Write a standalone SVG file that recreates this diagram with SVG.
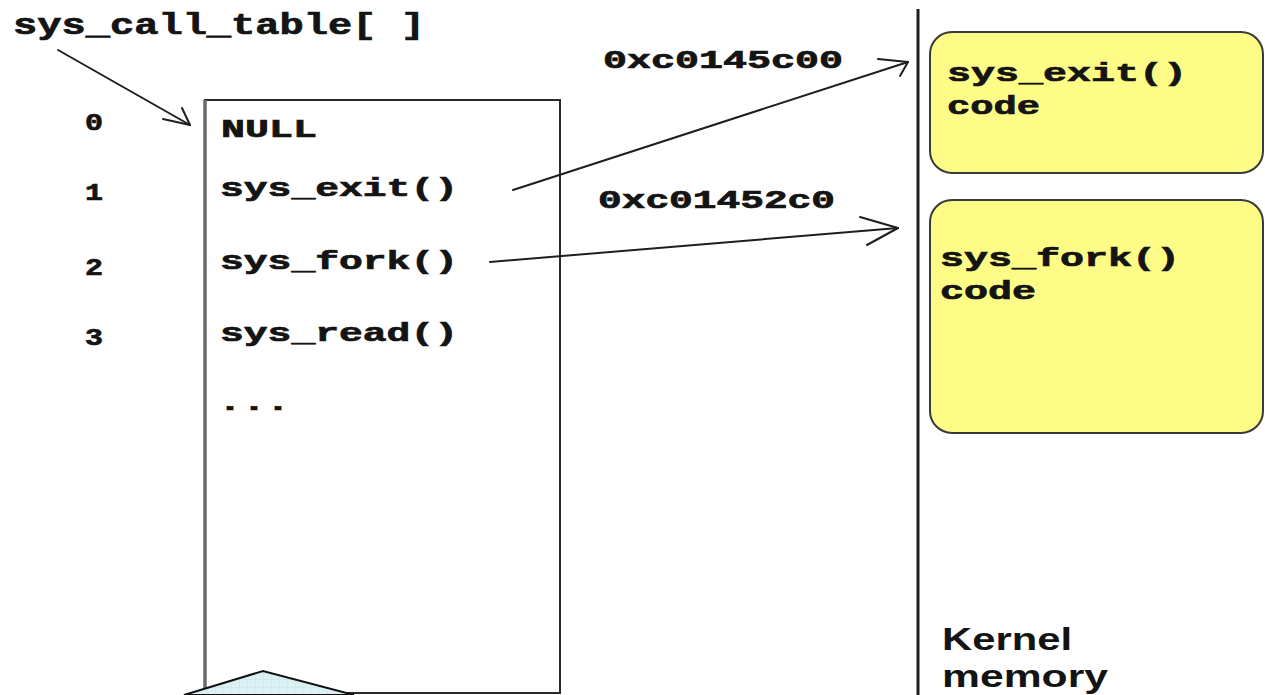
<svg xmlns="http://www.w3.org/2000/svg" width="1265" height="695" viewBox="0 0 1265 695">
  <style>
    .mono { font-family: "Liberation Mono", "Courier New", monospace; font-weight: bold; fill: #141414; stroke: #141414; stroke-width: 0.7; }
    .sans { font-family: "Liberation Sans", Arial, sans-serif; font-weight: bold; fill: #141414; }
    .wire { fill: none; stroke: #1e1e1e; stroke-width: 2; stroke-linecap: round; stroke-linejoin: round; }
    .code-block { fill: #fcfc86; stroke: #3a3a3a; stroke-width: 2; }
  </style>
  <defs>
    <pattern id="grid" width="8" height="8" patternUnits="userSpaceOnUse">
      <rect width="8" height="8" fill="#dcf1f3"/>
      <path d="M8 0V8M0 8H8" stroke="#bfdfe3" stroke-width="0.8" fill="none"/>
    </pattern>
  </defs>

  <rect width="1265" height="695" fill="#ffffff"/>

  <!-- table title -->
  <g id="title">
    <text class="mono" x="13" y="34" font-size="30" textLength="412" lengthAdjust="spacingAndGlyphs">sys_call_table[ ]</text>
  </g>

  <!-- index column -->
  <g id="indices">
    <text class="mono" x="85" y="130" font-size="24" textLength="18" lengthAdjust="spacingAndGlyphs">0</text>
    <text class="mono" x="85" y="200" font-size="24" textLength="18" lengthAdjust="spacingAndGlyphs">1</text>
    <text class="mono" x="85" y="275" font-size="24" textLength="18" lengthAdjust="spacingAndGlyphs">2</text>
    <text class="mono" x="85" y="345" font-size="24" textLength="18" lengthAdjust="spacingAndGlyphs">3</text>
  </g>

  <!-- the table itself -->
  <g id="table">
    <rect x="205" y="100" width="355" height="593" fill="#ffffff" stroke="#2a2a2a" stroke-width="2"/>
    <line x1="205" y1="100" x2="205" y2="693" stroke="#6a6a6a" stroke-width="3.5"/>
    <text class="mono" x="221" y="137" font-size="26" textLength="96" lengthAdjust="spacingAndGlyphs">NULL</text>
    <text class="mono" x="220" y="196" font-size="26" textLength="238" lengthAdjust="spacingAndGlyphs">sys_exit()</text>
    <text class="mono" x="220" y="269" font-size="26" textLength="238" lengthAdjust="spacingAndGlyphs">sys_fork()</text>
    <text class="mono" x="220" y="341" font-size="26" textLength="238" lengthAdjust="spacingAndGlyphs">sys_read()</text>
    <text class="mono" x="218" y="410" font-size="24" textLength="72" lengthAdjust="spacingAndGlyphs" fill="#555" stroke="none">...</text>
  </g>

  <!-- addresses -->
  <g id="addresses">
    <text class="mono" x="603" y="68" font-size="25" textLength="240" lengthAdjust="spacingAndGlyphs">0xc0145c00</text>
    <text class="mono" x="598" y="208" font-size="25" textLength="237" lengthAdjust="spacingAndGlyphs">0xc01452c0</text>
  </g>

  <!-- kernel memory boundary -->
  <g id="kernel-boundary">
    <line x1="918" y1="9" x2="918" y2="695" stroke="#1e1e1e" stroke-width="3"/>
  </g>

  <g id="exit-code">
    <rect class="code-block" x="930" y="32" width="333" height="141" rx="22" ry="22"/>
    <text class="mono" x="947" y="81" font-size="26" textLength="240" lengthAdjust="spacingAndGlyphs">sys_exit()</text>
    <text class="mono" x="947" y="114" font-size="26" textLength="93" lengthAdjust="spacingAndGlyphs">code</text>
  </g>

  <g id="fork-code">
    <rect class="code-block" x="930" y="200" width="333" height="233" rx="22" ry="22"/>
    <text class="mono" x="940" y="266" font-size="26" textLength="240" lengthAdjust="spacingAndGlyphs">sys_fork()</text>
    <text class="mono" x="940" y="299" font-size="26" textLength="96" lengthAdjust="spacingAndGlyphs">code</text>
  </g>

  <g id="kernel-label">
    <text class="sans" x="942" y="650" font-size="32" textLength="130" lengthAdjust="spacingAndGlyphs">Kernel</text>
    <text class="sans" x="942" y="687" font-size="32" textLength="166" lengthAdjust="spacingAndGlyphs">memory</text>
  </g>

  <!-- callout shape at the bottom edge -->
  <g id="callout">
    <polygon points="184,695 263,671 354,695" fill="url(#grid)" stroke="#111" stroke-width="2"/>
  </g>

  <!-- connectors -->
  <g id="connectors">
    <line class="wire" x1="58" y1="50" x2="190" y2="125"/>
    <polyline class="wire" points="163,119 190,125 182,108"/>

    <line class="wire" x1="513" y1="190" x2="908" y2="62"/>
    <polyline class="wire" points="878,59 908,62 900,76"/>

    <line class="wire" x1="490" y1="262" x2="898" y2="228"/>
    <polyline class="wire" points="860,217 898,228 867,245"/>
  </g>
</svg>
